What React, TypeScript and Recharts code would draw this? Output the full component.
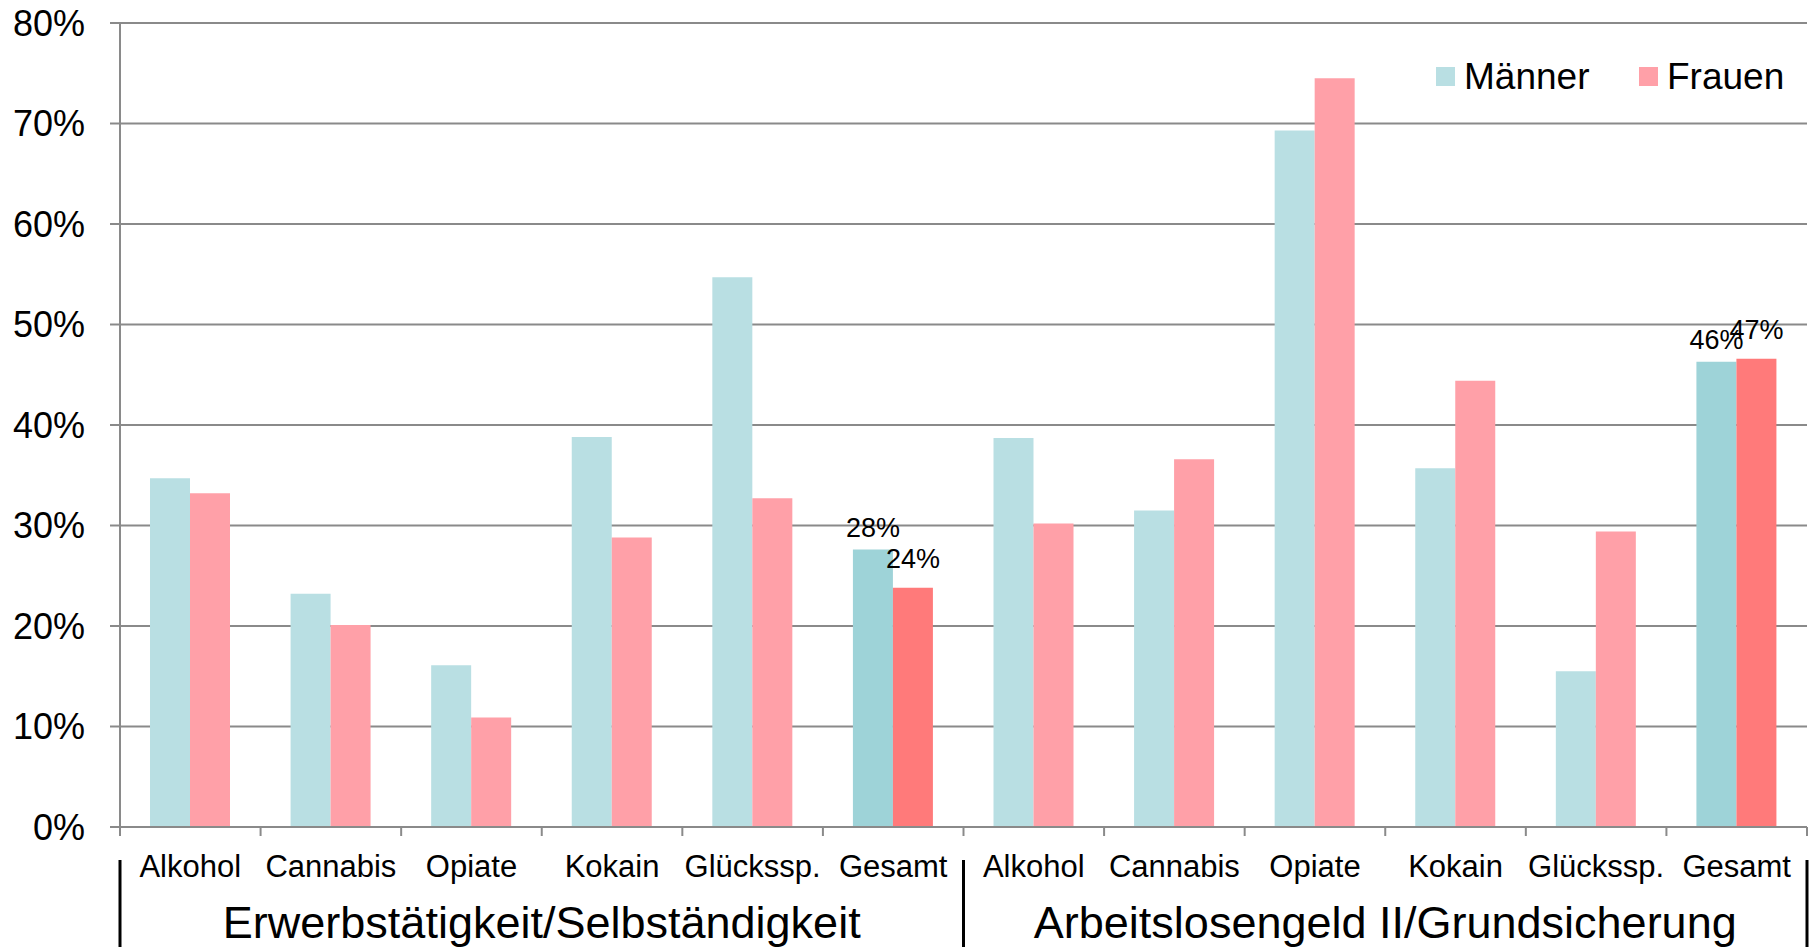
import { Bar, BarChart, CartesianGrid, Cell, LabelList, Legend, XAxis, YAxis } from "recharts";

const GROUPS = ["Erwerbstätigkeit/Selbständigkeit", "Arbeitslosengeld II/Grundsicherung"];
const CATEGORIES = ["Alkohol", "Cannabis", "Opiate", "Kokain", "Glückssp.", "Gesamt"];

// percent values, one per category
const MEN_ERWERB = [34.7, 23.2, 16.1, 38.8, 54.7, 27.6];
const WOMEN_ERWERB = [33.2, 20.1, 10.9, 28.8, 32.7, 23.8];
const MEN_ALG = [38.7, 31.5, 69.3, 35.7, 15.5, 46.3];
const WOMEN_ALG = [30.2, 36.6, 74.5, 44.4, 29.4, 46.6];

const Y_TICKS = [0, 10, 20, 30, 40, 50, 60, 70, 80];

const MEN_VALUES = [MEN_ERWERB, MEN_ALG];
const WOMEN_VALUES = [WOMEN_ERWERB, WOMEN_ALG];

const data = GROUPS.flatMap((group, g) =>
  CATEGORIES.map((cat, i) => ({
    key: `${g}|${cat}`,
    group,
    total: cat === "Gesamt",
    men: MEN_VALUES[g][i],
    women: WOMEN_VALUES[g][i],
  }))
);

const WIDTH = 1816;
const HEIGHT = 947;
const Y_AXIS_W = 120;
const MARGIN = { top: 23, right: 9, left: 0, bottom: 0 };
const BAND = (WIDTH - Y_AXIS_W - MARGIN.right) / data.length;

const FONT = "'Liberation Sans', Arial, sans-serif";
const AXIS = "#8a8a8a";
const MEN = "#b9dfe3";
const MEN_TOTAL = "#9ed3d8";
const WOMEN = "#ffa0a8";
const WOMEN_TOTAL = "#ff7a7a";

function CategoryTick(props: any) {
  const { x, y, payload, index } = props;
  const name = String(payload.value).split("|")[1];
  const left = x - BAND / 2;
  const right = x + BAND / 2;
  const groupEnd = (index + 1) % CATEGORIES.length === 0;
  return (
    <g>
      <line x1={left} x2={left} y1={y} y2={y + 9} stroke={AXIS} strokeWidth={2} />
      {index === data.length - 1 && (
        <line x1={right} x2={right} y1={y} y2={y + 9} stroke={AXIS} strokeWidth={2} />
      )}
      {index === 0 && <line x1={left} x2={left} y1={y + 33} y2={y + 120} stroke="#000" strokeWidth={3} />}
      {groupEnd && <line x1={right} x2={right} y1={y + 33} y2={y + 120} stroke="#000" strokeWidth={3} />}
      <text x={x} y={y + 50} textAnchor="middle" fontSize={31} fill="#000" fontFamily={FONT}>
        {name}
      </text>
    </g>
  );
}

function GroupTick(props: any) {
  const { x, y, payload } = props;
  return (
    <text x={x} y={y + 51} textAnchor="middle" fontSize={45} fill="#000" fontFamily={FONT}>
      {payload.value}
    </text>
  );
}

function makeTotalLabel(offset: number) {
  return (props: any) => {
    const { x, y, width, value, index } = props;
    if (!data[index] || !data[index].total) return null;
    return (
      <text x={x + width / 2} y={y - offset} textAnchor="middle" fontSize={27} fill="#000" fontFamily={FONT}>
        {Math.round(value)}%
      </text>
    );
  };
}

function LegendBox() {
  const items = [
    { label: "Männer", color: MEN, left: 1436 },
    { label: "Frauen", color: WOMEN, left: 1639 },
  ];
  return (
    <div>
      {items.map((item) => (
        <div
          key={item.label}
          style={{
            position: "absolute",
            left: item.left,
            top: 58,
            display: "flex",
            alignItems: "center",
            fontFamily: FONT,
            fontSize: 37,
            lineHeight: "37px",
            color: "#000",
            whiteSpace: "nowrap",
          }}
        >
          <span style={{ width: 19, height: 19, background: item.color, marginRight: 9 }} />
          {item.label}
        </div>
      ))}
    </div>
  );
}

export default function App() {
  return (
    <div style={{ width: WIDTH, height: HEIGHT, background: "#fff" }}>
      <style>{"body{margin:0}"}</style>
      <BarChart width={WIDTH} height={HEIGHT} data={data} margin={MARGIN} barGap={0}>
        <CartesianGrid xAxisId="cat" vertical={false} stroke={AXIS} strokeWidth={2} />
        <XAxis
          xAxisId="cat"
          dataKey="key"
          interval={0}
          height={60}
          tickSize={0}
          tickMargin={0}
          tickLine={false}
          stroke={AXIS}
          strokeWidth={2}
          tick={(p: any) => <CategoryTick {...p} />}
        />
        <XAxis
          xAxisId="group"
          dataKey="group"
          allowDuplicatedCategory={false}
          interval={0}
          height={60}
          tickSize={0}
          tickMargin={0}
          axisLine={false}
          tickLine={false}
          tick={(p: any) => <GroupTick {...p} />}
        />
        <YAxis
          width={Y_AXIS_W}
          domain={[0, 80]}
          ticks={Y_TICKS}
          interval={0}
          tickFormatter={(v) => `${v}%`}
          tickSize={10}
          tickMargin={25}
          stroke={AXIS}
          strokeWidth={2}
          tick={{ fontSize: 36, fill: "#000", fontFamily: FONT }}
        />
        <Legend
          content={() => <LegendBox />}
          wrapperStyle={{ position: "absolute", top: 0, left: 0, width: 0, height: 0 }}
        />
        <Bar xAxisId="cat" dataKey="men" name="Männer" barSize={40} isAnimationActive={false}>
          {data.map((d) => (
            <Cell key={d.key} fill={d.total ? MEN_TOTAL : MEN} />
          ))}
          <LabelList dataKey="men" content={makeTotalLabel(13)} />
        </Bar>
        <Bar xAxisId="cat" dataKey="women" name="Frauen" barSize={40} isAnimationActive={false}>
          {data.map((d) => (
            <Cell key={d.key} fill={d.total ? WOMEN_TOTAL : WOMEN} />
          ))}
          <LabelList dataKey="women" content={makeTotalLabel(20)} />
        </Bar>
      </BarChart>
    </div>
  );
}
